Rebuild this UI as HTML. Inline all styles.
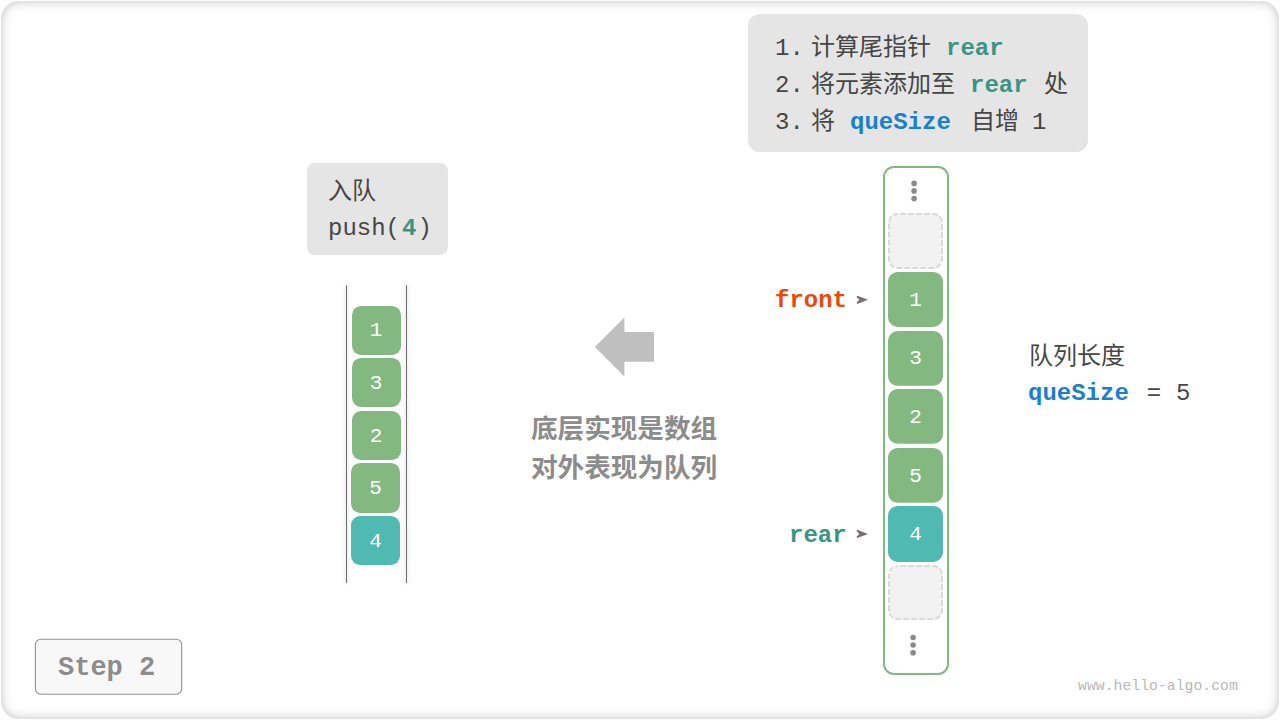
<!DOCTYPE html>
<html lang="zh"><head><meta charset="utf-8"><title>Queue push - Step 2</title>
<style>
html,body{margin:0;padding:0;background:#fff;}
body{width:1280px;height:720px;position:relative;overflow:hidden;font-family:"Liberation Mono","Liberation Sans",sans-serif;}
.tl{position:absolute;margin:0;white-space:pre;line-height:1;color:transparent;font-family:"Liberation Mono",monospace;}
.card{position:absolute;left:1px;top:1px;width:1278px;height:718px;border-radius:18px;background:#fff;box-shadow:inset 0 0 11px rgba(0,0,0,.25);}
</style></head><body>
<div class="card"></div>
<svg width="1280" height="720" viewBox="0 0 1280 720" style="position:absolute;left:0;top:0">
<rect x="748" y="14" width="340" height="138" rx="12" fill="#e5e5e5"/>
<rect x="307" y="163" width="141" height="92" rx="8" fill="#e5e5e5"/>
<defs><filter id="bl" x="325" y="270" width="105" height="330" filterUnits="userSpaceOnUse"><feGaussianBlur stdDeviation="2.2"/></filter></defs>
<g stroke="#000" stroke-width="2" opacity="0.14" filter="url(#bl)"><rect x="345.5" y="285.3" width="2" height="297.7" fill="#000" stroke="none"/><rect x="405.5" y="285.3" width="2" height="297.7" fill="#000" stroke="none"/></g>
<g stroke="#6c6c6c" stroke-width="1"><line x1="346.5" y1="285.3" x2="346.5" y2="583"/><line x1="406.5" y1="285.3" x2="406.5" y2="583"/></g>
<polygon points="594.9,347 624.4,317.6 624.4,332.1 654,332.1 654,361.7 624.4,361.7 624.4,376.5" fill="#bfbfbf"/>
<rect x="884" y="167" width="64" height="507" rx="10" fill="#fff" stroke="#80ba82" stroke-width="2"/>
<rect x="889" y="213.9" width="53" height="54.1" rx="8.6" fill="#f2f2f2" stroke="#dadada" stroke-width="2" stroke-dasharray="6 2" stroke-dashoffset="-2.6"/>
<rect x="889" y="566.06" width="53" height="52.9" rx="8.6" fill="#f2f2f2" stroke="#dadada" stroke-width="2" stroke-dasharray="6 2" stroke-dashoffset="-2.6"/>
<rect x="352" y="305.9" width="49" height="49.10" rx="9.1" fill="#83b981"/>
<rect x="352" y="357.9" width="49" height="49.00" rx="9.1" fill="#83b981"/>
<rect x="352" y="411.1" width="49" height="48.90" rx="9.1" fill="#83b981"/>
<rect x="351" y="462.9" width="49" height="50.00" rx="9.1" fill="#83b981"/>
<rect x="351" y="516.1" width="49" height="48.80" rx="9.1" fill="#50b9b1"/>
<rect x="888" y="272.0" width="55" height="54.90" rx="9.6" fill="#83b981"/>
<rect x="888" y="331.1" width="55" height="54.70" rx="9.6" fill="#83b981"/>
<rect x="888" y="389.1" width="55" height="54.65" rx="9.6" fill="#83b981"/>
<rect x="888" y="448.0" width="55" height="54.70" rx="9.6" fill="#83b981"/>
<rect x="888" y="506.06" width="55" height="55.84" rx="9.6" fill="#50b9b1"/>
<circle cx="914.1" cy="183.4" r="2.8" fill="#8a8a8a"/>
<circle cx="914.1" cy="190.9" r="2.8" fill="#8a8a8a"/>
<circle cx="914.1" cy="198.6" r="2.8" fill="#8a8a8a"/>
<circle cx="913.1" cy="637.5" r="2.8" fill="#8a8a8a"/>
<circle cx="913.1" cy="645.0" r="2.8" fill="#8a8a8a"/>
<circle cx="913.1" cy="652.7" r="2.8" fill="#8a8a8a"/>
<polygon points="857.30,295.65 868.00,299.85 857.30,304.05 856.50,302.65 859.30,299.85 856.50,297.05" fill="#77716f"/>
<polygon points="857.30,529.70 868.00,533.90 857.30,538.10 856.50,536.70 859.30,533.90 856.50,531.10" fill="#77716f"/>
<rect x="35.4" y="639.2" width="146.3" height="55.1" rx="5.5" fill="#f8f8f8" stroke="#919191" stroke-width="1.1"/>
<g id="tx" font-family='"Liberation Mono", "Noto Sans CJK SC", monospace' font-size="24">
<text x="775" y="55" fill="#464646">1.</text>
<text x="811" y="55" fill="#464646">计算尾指针</text>
<text x="946" y="55" fill="#3a9486" font-weight="bold">rear</text>
<text x="775" y="91.9" fill="#464646">2.</text>
<text x="811" y="91.9" fill="#464646">将元素添加至</text>
<text x="970" y="91.9" fill="#3a9486" font-weight="bold">rear</text>
<text x="1044" y="91.9" fill="#464646">处</text>
<text x="775" y="128.8" fill="#464646">3.</text>
<text x="811" y="128.8" fill="#464646">将</text>
<text x="850" y="128.8" fill="#1880cc" font-weight="bold">queSize</text>
<text x="971" y="128.8" fill="#464646">自增</text>
<text x="1032" y="128.8" fill="#464646">1</text>
<text x="328" y="199" fill="#464646">入队</text>
<text x="328" y="234.95" fill="#464646">push(</text>
<text x="402" y="234.95" fill="#3a9486" font-weight="bold">4</text>
<text x="417.5" y="234.95" fill="#464646">)</text>
<text x="775" y="306.9" fill="#ec4909" font-weight="bold">front</text>
<text x="789" y="541.9" fill="#3a9486" font-weight="bold">rear</text>
<text x="1029" y="364" fill="#464646">队列长度</text>
<text x="1028" y="400.1" fill="#1880cc" font-weight="bold">queSize</text>
<text x="1146.7" y="400.1" fill="#464646">=</text>
<text x="1176" y="400.1" fill="#464646">5</text>
<text x="531" y="437.5" font-size="26.6" font-weight="bold" fill="#8c8c8c">底层实现是数组</text>
<text x="531" y="477" font-size="26.6" font-weight="bold" fill="#8c8c8c">对外表现为队列</text>
<text x="58" y="674.8" font-size="27" font-weight="bold" fill="#8c8c8c">Step 2</text>
<text x="1078" y="689.6" font-size="14.8" fill="#b9b9b9">www.hello-algo.com</text>
<g font-size="21" fill="#fff" text-anchor="middle">
<text x="376" y="336">1</text>
<text x="376" y="389">3</text>
<text x="376" y="441.96">2</text>
<text x="375.5" y="493.9">5</text>
<text x="375.5" y="546.96">4</text>
<text x="915.5" y="305.96">1</text>
<text x="915.5" y="364">3</text>
<text x="915.5" y="422.96">2</text>
<text x="915.5" y="481.8">5</text>
<text x="915.5" y="539.96">4</text>
</g>
</g>
</svg>
<div class="tl" style="left:775px;top:35px;font-size:24px">1. 计算尾指针 <b>rear</b></div>
<div class="tl" style="left:775px;top:72px;font-size:24px">2. 将元素添加至 <b>rear</b> 处</div>
<div class="tl" style="left:775px;top:109px;font-size:24px">3. 将 <b>queSize</b> 自增 1</div>
<div class="tl" style="left:328px;top:178px;font-size:24px">入队</div>
<div class="tl" style="left:328px;top:214px;font-size:24px">push(<b>4</b>)</div>
<div class="tl" style="left:352px;top:318px;font-size:21px;width:49px;text-align:center;line-height:52.5px">1<br>3<br>2<br>5<br>4</div>
<div class="tl" style="left:531px;top:413px;font-size:26px;line-height:40px"><b>底层实现是数组<br>对外表现为队列</b></div>
<div class="tl" style="left:774px;top:287px;font-size:24px"><b>front</b> ➤</div>
<div class="tl" style="left:788px;top:522px;font-size:24px"><b>rear</b> ➤</div>
<div class="tl" style="left:888px;top:285px;font-size:21px;width:55px;text-align:center;line-height:58.6px">1<br>3<br>2<br>5<br>4</div>
<div class="tl" style="left:1029px;top:343px;font-size:24px">队列长度</div>
<div class="tl" style="left:1028px;top:380px;font-size:24px"><b>queSize</b> = 5</div>
<div class="tl" style="left:58px;top:652px;font-size:26px"><b>Step 2</b></div>
<div class="tl" style="left:1077px;top:678px;font-size:14px">www.hello-algo.com</div>
</body></html>
